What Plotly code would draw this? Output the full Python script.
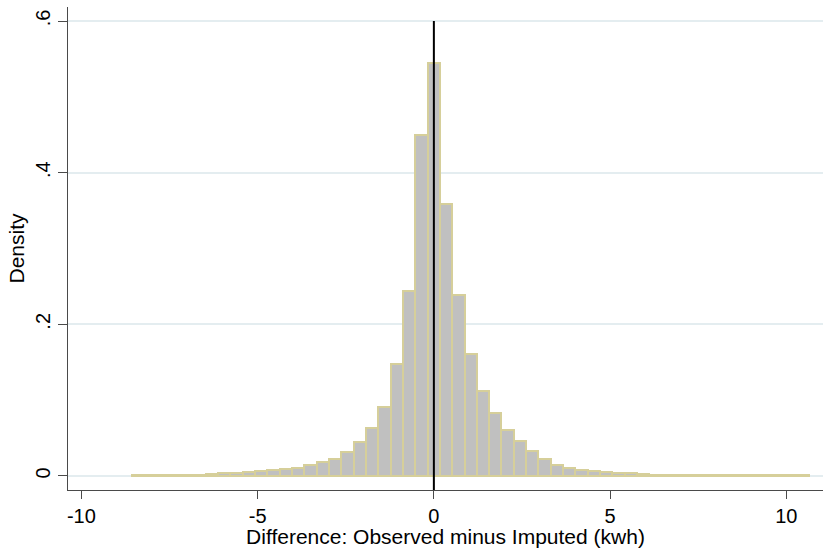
import plotly.graph_objects as go

# Histogram of differences (kwh): 55 equal-width bins
bin_start = -8.567
bin_width = 0.3495
density = [
    0.0008, 0.0009, 0.0010, 0.0011, 0.0013, 0.0016, 0.0025, 0.0033, 0.0045, 0.0058,
    0.0063, 0.0075, 0.0088, 0.0110, 0.0149, 0.0180, 0.0228, 0.0312, 0.0444, 0.0629,
    0.0914, 0.1477, 0.2439, 0.4496, 0.5441, 0.3586, 0.2386, 0.1608, 0.1127, 0.0826,
    0.0606, 0.0461, 0.0325, 0.0228, 0.0149, 0.0110, 0.0079, 0.0066, 0.0048, 0.0045,
    0.0035, 0.0030, 0.0015, 0.0012, 0.0011, 0.0010, 0.0010, 0.0009, 0.0009, 0.0008,
    0.0008, 0.0008, 0.0007, 0.0007, 0.0007,
]
bin_centers = [bin_start + bin_width * (i + 0.5) for i in range(len(density))]

x_ticks = [-10, -5, 0, 5, 10]
x_tick_text = ["-10", "-5", "0", "5", "10"]
y_ticks = [0, 0.2, 0.4, 0.6]
y_tick_text = ["0", ".2", ".4", ".6"]
ref_line_x = 0
ref_line_top = 0.6

x_range = [-10.38, 11.04]
y_range = [-0.0185, 0.6185]

FONT = "Liberation Sans, Arial, sans-serif"
AXIS_COLOR = "#4a4a4a"
GRID_COLOR = "#e4edf0"

fig = go.Figure()
fig.add_trace(go.Bar(
    x=bin_centers,
    y=density,
    width=bin_width,
    marker=dict(color="#c0c0c0", line=dict(color="#d6cf9a", width=2)),
    showlegend=False,
    hoverinfo="x+y",
))

fig.add_shape(
    type="line", xref="x", yref="y",
    x0=ref_line_x, x1=ref_line_x, y0=y_range[0], y1=ref_line_top,
    line=dict(color="black", width=2),
    layer="above",
)

fig.update_layout(
    width=823, height=548,
    margin=dict(l=68, r=0, t=7, b=58),
    paper_bgcolor="white",
    plot_bgcolor="white",
    font=dict(family=FONT, size=20, color="black"),
    bargap=0,
    xaxis=dict(
        range=x_range,
        tickvals=x_ticks, ticktext=x_tick_text,
        showgrid=False, zeroline=False,
        showline=True, linecolor=AXIS_COLOR, linewidth=1,
        ticks="outside", ticklen=8, tickcolor=AXIS_COLOR, tickwidth=1,
        tickfont=dict(size=20),
        automargin=False,
        title=dict(text="Difference: Observed minus Imputed (kwh)",
                   font=dict(size=21), standoff=4),
    ),
    yaxis=dict(
        range=y_range,
        tickvals=y_ticks, ticktext=y_tick_text,
        tickangle=-90,
        showgrid=True, gridcolor=GRID_COLOR, gridwidth=1.5,
        zeroline=False,
        showline=True, linecolor=AXIS_COLOR, linewidth=1,
        ticks="outside", ticklen=9, tickcolor=AXIS_COLOR, tickwidth=1,
        tickfont=dict(size=20),
        automargin=False,
        title=dict(text="Density", font=dict(size=21), standoff=1),
    ),
)

fig.write_html(
    "out.html",
    config={"displayModeBar": False},
    post_script="document.body.style.margin='0';document.body.style.padding='0';",
)
